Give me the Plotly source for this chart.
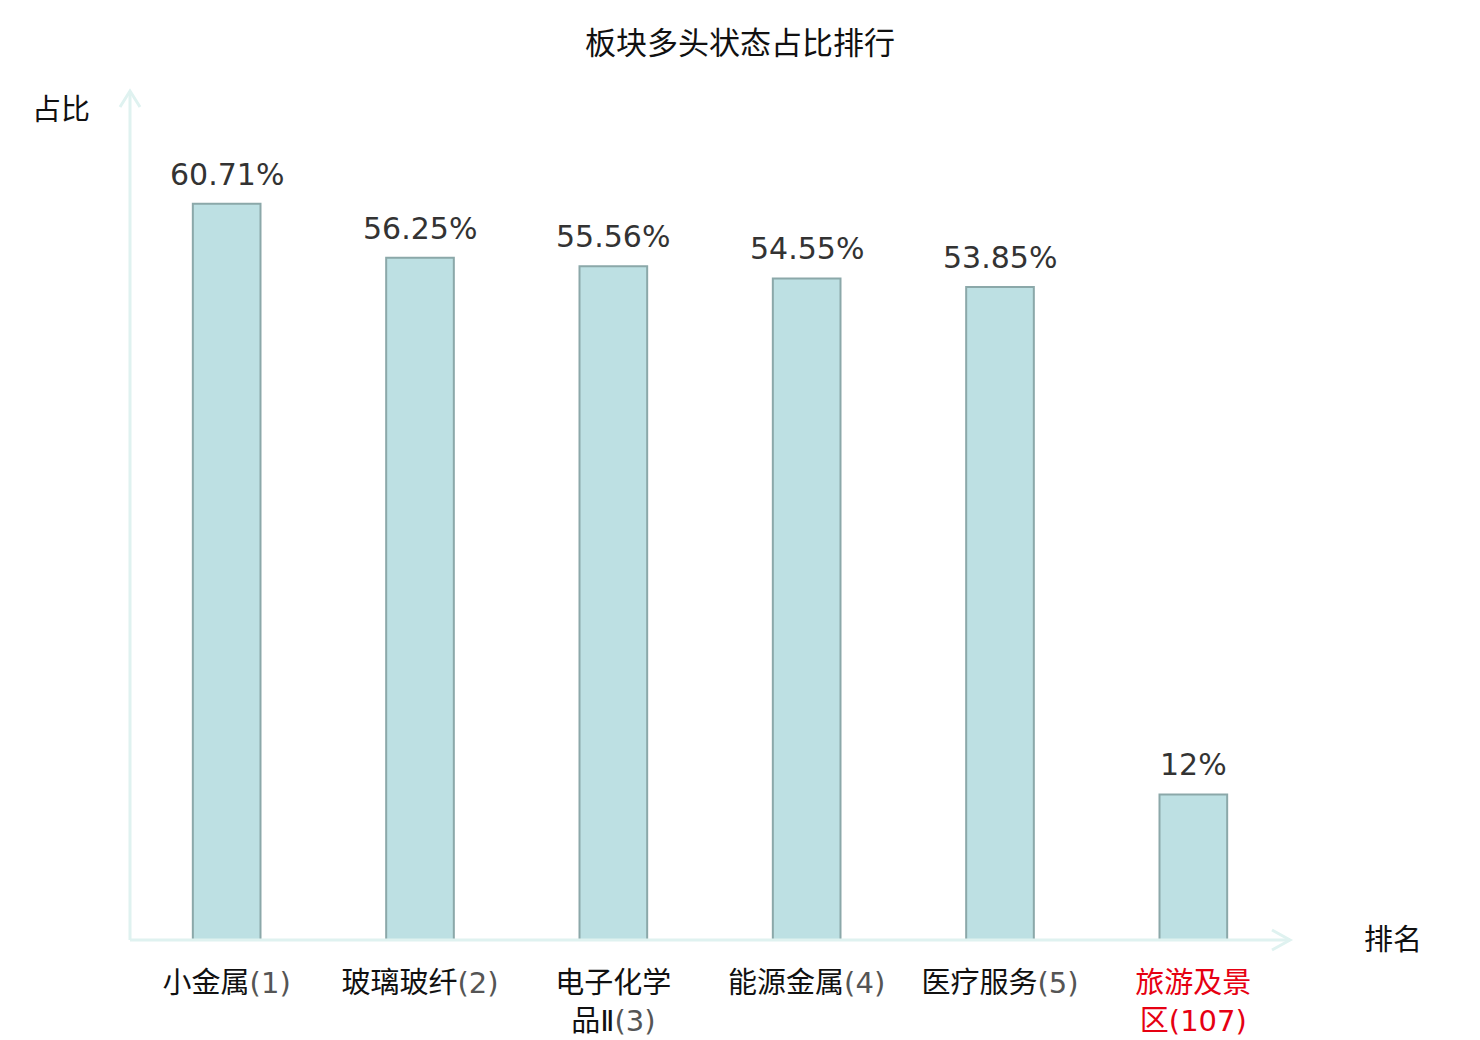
import plotly.graph_objects as go

categories = ["小金属", "玻璃玻纤", "电子化学<br>品Ⅱ", "能源金属", "医疗服务", "旅游及景<br>区"]
ranks = [1, 2, 3, 4, 5, 107]
values = [60.71, 56.25, 55.56, 54.55, 53.85, 12]
value_labels = ["60.71%", "56.25%", "55.56%", "54.55%", "53.85%", "12%"]
name_colors = ["#111111", "#111111", "#111111", "#111111", "#111111", "#e60012"]
rank_colors = ["#555555", "#555555", "#555555", "#555555", "#555555", "#e60012"]

FONT = "DejaVu Sans, Noto Sans CJK SC"
ticktext = [
    f"<span style='color:{c}'>{n}</span><span style='color:{rc}'>({r})</span>"
    for n, r, c, rc in zip(categories, ranks, name_colors, rank_colors)
]
xs = list(range(len(categories)))

fig = go.Figure()
fig.add_trace(go.Bar(
    x=xs, y=values, width=0.35,
    marker=dict(color="#bde0e3", line=dict(color="#8ba8a9", width=2)),
    hoverinfo="skip",
))
for x, v, t in zip(xs, values, value_labels):
    fig.add_annotation(x=x, y=v, text=t, showarrow=False, yanchor="bottom", yshift=10,
                       font=dict(size=30, color="#333333", family=FONT))

axis_col = "#dff2f0"
W, H = 1160, 849
fig.add_shape(type="path", xref="paper", yref="paper",
              path=f"M {1-18/W} {10/H} L 1 0 L {1-18/W} {-10/H}",
              line=dict(color=axis_col, width=3))
fig.add_shape(type="path", xref="paper", yref="paper",
              path=f"M {-10/W} {1-16/H} L 0 1 L {10/W} {1-16/H}",
              line=dict(color=axis_col, width=3))
fig.add_shape(type="line", xref="paper", yref="paper", x0=0, x1=1, y0=0, y1=0,
              line=dict(color=axis_col, width=3))
fig.add_shape(type="line", xref="paper", yref="paper", x0=0, x1=0, y0=0, y1=1,
              line=dict(color=axis_col, width=3))

fig.add_annotation(xref="paper", yref="paper", x=-38/W, y=1 - 19/H, text="占比", showarrow=False,
                   xanchor="right", yanchor="middle", font=dict(size=29, color="#111111", family=FONT))
fig.add_annotation(xref="paper", yref="paper", x=1 + 72/W, y=0, text="排名", showarrow=False,
                   xanchor="left", yanchor="middle", font=dict(size=29, color="#111111", family=FONT))

fig.update_layout(
    width=1480, height=1040,
    margin=dict(l=122, r=198, t=83, b=108),
    paper_bgcolor="white", plot_bgcolor="white",
    title=dict(text="板块多头状态占比排行", x=0.5 - 8/1480, xanchor="center", y=1 - 35/1040, yanchor="middle",
               font=dict(size=31, color="#111111", family=FONT)),
    showlegend=False,
    xaxis=dict(tickmode="array", tickvals=xs, ticktext=ticktext, range=[-0.5, 5.5],
               showgrid=False, zeroline=False, showline=False, ticks="",
               ticklabelstandoff=23, automargin=False,
               tickfont=dict(size=29, color="#111111", family=FONT)),
    yaxis=dict(range=[0, 70], showgrid=False, zeroline=False, showline=False,
               showticklabels=False, ticks="", automargin=False),
)
fig.write_html("out.html")
